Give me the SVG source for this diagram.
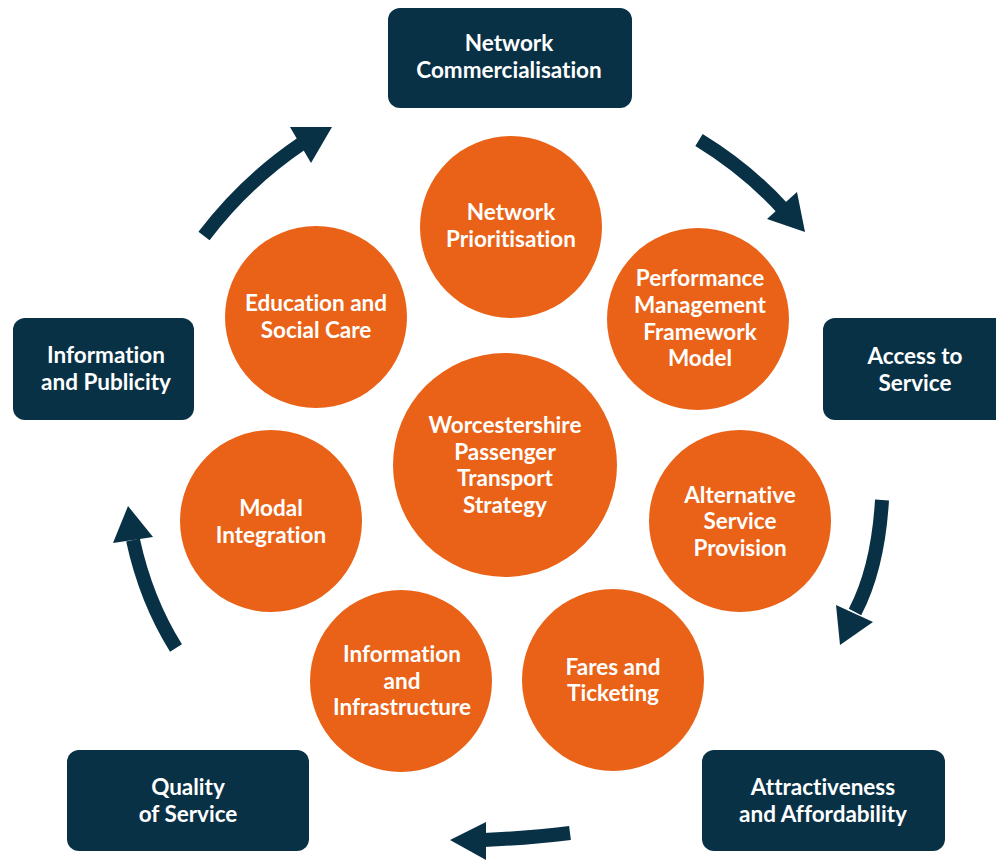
<svg xmlns="http://www.w3.org/2000/svg" width="996" height="861" viewBox="0 0 996 861">
  <style>
    .box { fill: #083146; }
    .disc { fill: #e96217; }
    .label { fill: #ffffff; font-family: Lato, "Open Sans", "Liberation Sans", sans-serif; font-weight: 700; font-size: 22.5px; text-anchor: middle; font-variant-ligatures: none; font-feature-settings: "liga" 0, "dlig" 0; }
    .shaft { fill: none; stroke: #083146; stroke-width: 14; stroke-linecap: butt; }
    .head { fill: #083146; }
  </style>
  <rect width="996" height="861" fill="#ffffff"/>

  <!-- outer cycle arrows -->
  <g id="connectors">
    <path class="shaft" d="M 204,236 Q 245,182 301,144"/>
    <polygon class="head" points="290,127 332,127 311,163"/>
    <path class="shaft" d="M 699,140 Q 748,170 784,210"/>
    <polygon class="head" points="767,219 797,192 805,232"/>
    <path class="shaft" d="M 882,500 Q 878,568 855,612"/>
    <polygon class="head" points="836,605 873,622 840,645"/>
    <path class="shaft" d="M 570,833 Q 530,838 484,840"/>
    <polygon class="head" points="450,840 486,822 486,860"/>
    <path class="shaft" d="M 176,648 Q 146,600 133,540"/>
    <polygon class="head" points="128,506 113,543 153,537"/>
  </g>

  <!-- outer boxes -->
  <g id="network-commercialisation">
    <rect class="box" x="388" y="8" width="244" height="100" rx="12"/>
    <text class="label" x="509" y="51">Network</text>
    <text class="label" x="509" y="78">Commercialisation</text>
  </g>
  <g id="access-to-service">
    <rect class="box" x="823" y="318" width="190" height="102" rx="12"/>
    <text class="label" x="915" y="364">Access to</text>
    <text class="label" x="915" y="391">Service</text>
  </g>
  <g id="attractiveness-and-affordability">
    <rect class="box" x="702" y="750" width="243" height="101" rx="12"/>
    <text class="label" x="823" y="795">Attractiveness</text>
    <text class="label" x="823" y="822">and Affordability</text>
  </g>
  <g id="quality-of-service">
    <rect class="box" x="67" y="750" width="242" height="101" rx="12"/>
    <text class="label" x="188" y="795">Quality</text>
    <text class="label" x="188" y="822">of Service</text>
  </g>
  <g id="information-and-publicity">
    <rect class="box" x="13" y="318" width="181" height="102" rx="12"/>
    <text class="label" x="106" y="363">Information</text>
    <text class="label" x="106" y="390">and Publicity</text>
  </g>

  <!-- inner circles -->
  <g id="network-prioritisation">
    <circle class="disc" cx="511" cy="227" r="91"/>
    <text class="label" x="511" y="220">Network</text>
    <text class="label" x="511" y="247">Prioritisation</text>
  </g>
  <g id="performance-management">
    <circle class="disc" cx="698" cy="319" r="91"/>
    <text class="label" x="700" y="286">Performance</text>
    <text class="label" x="700" y="313">Management</text>
    <text class="label" x="700" y="340">Framework</text>
    <text class="label" x="700" y="366">Model</text>
  </g>
  <g id="education-and-social-care">
    <circle class="disc" cx="316" cy="317" r="91"/>
    <text class="label" x="316" y="311">Education and</text>
    <text class="label" x="316" y="338">Social Care</text>
  </g>
  <g id="strategy">
    <circle class="disc" cx="505" cy="465" r="112"/>
    <text class="label" x="505" y="433">Worcestershire</text>
    <text class="label" x="505" y="460">Passenger</text>
    <text class="label" x="505" y="486">Transport</text>
    <text class="label" x="505" y="513">Strategy</text>
  </g>
  <g id="alternative-service-provision">
    <circle class="disc" cx="740" cy="521" r="91"/>
    <text class="label" x="740" y="503">Alternative</text>
    <text class="label" x="740" y="529">Service</text>
    <text class="label" x="740" y="556">Provision</text>
  </g>
  <g id="modal-integration">
    <circle class="disc" cx="271" cy="521" r="91"/>
    <text class="label" x="271" y="516">Modal</text>
    <text class="label" x="271" y="543">Integration</text>
  </g>
  <g id="fares-and-ticketing">
    <circle class="disc" cx="613" cy="680" r="91"/>
    <text class="label" x="613" y="675">Fares and</text>
    <text class="label" x="613" y="701">Ticketing</text>
  </g>
  <g id="information-and-infrastructure">
    <circle class="disc" cx="401" cy="681" r="91"/>
    <text class="label" x="402" y="662">Information</text>
    <text class="label" x="402" y="689">and</text>
    <text class="label" x="402" y="715">Infrastructure</text>
  </g>
</svg>
